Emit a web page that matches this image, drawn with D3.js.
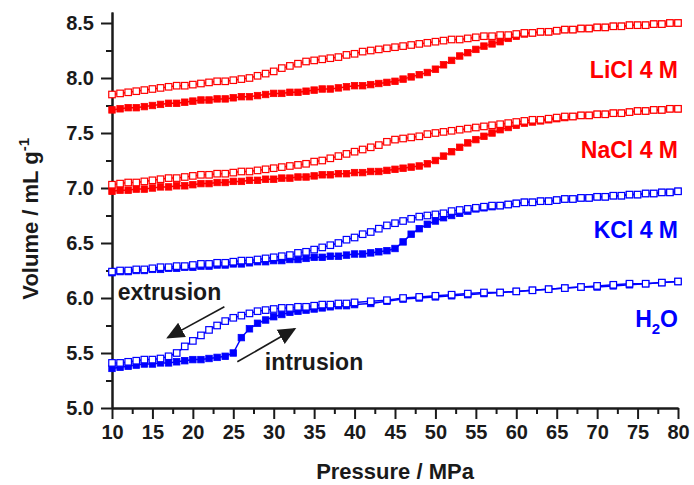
<!DOCTYPE html>
<html>
<head>
<meta charset="utf-8">
<script src="https://cdn.jsdelivr.net/npm/d3@7"></script>
<style>
  body { margin: 0; background: #fff; }
  text { font-family: "Liberation Sans", Arial, sans-serif; font-weight: bold; }
</style>
</head>
<body>
<script>
// pressure grid (MPa) for the salt solutions
var pressure = [10,11,12,13,14,15,16,17,18,19,20,21,22,23,24,25,26,27,28,29,30,
  31,32,33,34,35,36,37,38,39,40,41,42,43,44,45,46,47,48,49,50,
  51,52,53,54,55,56,57,58,59,60,61,62,63,64,65,66,67,68,69,70,
  71,72,73,74,75,76,77,78,79,80]

// volume (mL/g), intrusion = filled, extrusion = open
var liclIn = [7.71,7.72,7.73,7.73,7.74,7.75,7.76,7.77,7.77,7.78,7.79,
  7.80,7.80,7.81,7.81,7.82,7.83,7.83,7.84,7.85,7.86,
  7.86,7.87,7.87,7.88,7.89,7.90,7.90,7.91,7.92,7.93,
  7.93,7.94,7.95,7.96,7.97,7.99,8.01,8.03,8.05,8.08,
  8.12,8.16,8.20,8.23,8.26,8.29,8.31,8.33,8.36,8.38,
  8.40,8.41,8.42,8.42,8.43,8.44,8.44,8.45,8.45,8.46,
  8.46,8.47,8.47,8.48,8.48,8.48,8.49,8.49,8.50,8.50]
var liclEx = [7.85,7.86,7.87,7.88,7.89,7.90,7.91,7.92,7.93,7.93,7.94,
  7.95,7.96,7.97,7.97,7.98,7.99,8.00,8.02,8.04,8.06,
  8.09,8.11,8.13,8.15,8.16,8.17,8.18,8.19,8.21,8.22,
  8.24,8.25,8.26,8.27,8.28,8.29,8.30,8.31,8.32,8.33,
  8.34,8.35,8.35,8.36,8.37,8.38,8.38,8.39,8.39,8.40,
  8.41,8.41,8.42,8.42,8.43,8.44,8.44,8.45,8.45,8.46,
  8.46,8.47,8.47,8.48,8.48,8.48,8.49,8.49,8.50,8.50]
var naclIn = [6.97,6.98,6.98,6.99,6.99,7.00,7.01,7.01,7.02,7.02,7.03,
  7.04,7.04,7.05,7.05,7.06,7.06,7.07,7.07,7.08,7.08,
  7.09,7.09,7.10,7.10,7.11,7.12,7.12,7.13,7.13,7.14,
  7.14,7.15,7.15,7.16,7.17,7.18,7.19,7.20,7.22,7.25,
  7.29,7.33,7.37,7.41,7.44,7.47,7.50,7.53,7.55,7.57,
  7.59,7.60,7.61,7.62,7.63,7.64,7.65,7.66,7.66,7.67,
  7.67,7.68,7.68,7.69,7.70,7.70,7.71,7.71,7.72,7.72]
var naclEx = [7.03,7.04,7.05,7.05,7.06,7.07,7.08,7.09,7.09,7.10,7.11,
  7.12,7.12,7.13,7.13,7.14,7.15,7.15,7.16,7.17,7.18,
  7.19,7.20,7.21,7.22,7.24,7.25,7.27,7.29,7.31,7.33,
  7.35,7.37,7.39,7.42,7.44,7.45,7.46,7.47,7.49,7.50,
  7.51,7.52,7.53,7.54,7.55,7.56,7.57,7.58,7.59,7.60,
  7.61,7.62,7.62,7.63,7.64,7.65,7.65,7.66,7.66,7.67,
  7.67,7.68,7.68,7.69,7.70,7.70,7.71,7.71,7.72,7.72]
var kclIn = [6.23,6.24,6.24,6.25,6.25,6.26,6.26,6.27,6.27,6.28,6.28,
  6.29,6.29,6.30,6.30,6.31,6.31,6.32,6.33,6.33,6.34,
  6.34,6.35,6.35,6.36,6.37,6.37,6.38,6.38,6.39,6.40,
  6.40,6.41,6.42,6.43,6.45,6.51,6.58,6.63,6.67,6.70,
  6.73,6.75,6.77,6.79,6.81,6.82,6.83,6.84,6.85,6.86,
  6.87,6.87,6.88,6.88,6.89,6.90,6.90,6.91,6.91,6.92,
  6.92,6.93,6.93,6.94,6.94,6.95,6.95,6.96,6.96,6.97]
var kclEx = [6.24,6.25,6.25,6.26,6.26,6.27,6.28,6.28,6.29,6.29,6.30,
  6.31,6.31,6.32,6.32,6.33,6.34,6.34,6.35,6.36,6.37,
  6.38,6.39,6.41,6.42,6.44,6.46,6.48,6.50,6.53,6.55,
  6.58,6.60,6.63,6.66,6.68,6.70,6.72,6.74,6.75,6.76,
  6.77,6.79,6.80,6.81,6.82,6.83,6.84,6.84,6.85,6.86,
  6.87,6.87,6.88,6.88,6.89,6.90,6.90,6.91,6.91,6.92,
  6.92,6.93,6.93,6.94,6.94,6.95,6.95,6.96,6.96,6.97]

// water was measured on a coarser grid above 40 MPa
var waterP = [10,11,12,13,14,15,16,17,18,19,20,21,22,23,24,25,26,27,28,29,30,
  31,32,33,34,35,36,37,38,39,40,42,44,46,48,50,52,54,56,58,60,
  62,64,66,68,70,72,74,76,78,80]
var waterIn = [5.36,5.37,5.38,5.39,5.40,5.40,5.41,5.41,5.42,5.43,5.44,
  5.44,5.45,5.46,5.47,5.50,5.64,5.72,5.77,5.80,5.83,
  5.85,5.87,5.88,5.89,5.90,5.91,5.92,5.93,5.93,5.94,
  5.95,5.97,5.99,6.00,6.01,6.02,6.03,6.04,6.05,6.06,
  6.07,6.08,6.09,6.10,6.10,6.11,6.12,6.13,6.14,6.15]
var waterEx = [5.41,5.41,5.42,5.43,5.44,5.44,5.45,5.47,5.50,5.56,5.61,
  5.66,5.71,5.75,5.79,5.82,5.84,5.86,5.88,5.89,5.90,
  5.91,5.91,5.92,5.92,5.93,5.94,5.94,5.95,5.95,5.96,
  5.97,5.98,6.00,6.01,6.02,6.03,6.04,6.05,6.05,6.06,
  6.07,6.08,6.09,6.10,6.11,6.12,6.13,6.13,6.14,6.15]

var red = '#ff0000', blue = '#0000ff'

var series = [
  {p: pressure, v: liclIn, color: red, open: false},
  {p: pressure, v: naclIn, color: red, open: false},
  {p: pressure, v: kclIn, color: blue, open: false},
  {p: waterP, v: waterIn, color: blue, open: false},
  {p: pressure, v: liclEx, color: red, open: true},
  {p: pressure, v: naclEx, color: red, open: true},
  {p: pressure, v: kclEx, color: blue, open: true},
  {p: waterP, v: waterEx, color: blue, open: true}
]

var labels = [
  {text: 'LiCl 4 M', p: 80, v: 8.0, color: red},
  {text: 'NaCl 4 M', p: 80, v: 7.27, color: red},
  {text: 'KCl 4 M', p: 80, v: 6.55, color: blue}
]

var width = 694, height = 485

var svg = d3.select('body').append('svg').attr('width', width).attr('height', height)

var x = d3.scaleLinear().domain([10, 80]).range([112, 678])
var y = d3.scaleLinear().domain([5, 8.6]).range([408, 12])

var ink = '#1a1a1a'

// axes, major + minor ticks
var xAxis = d3.axisBottom(x).tickValues(d3.range(10, 81, 5)).tickSize(11).tickSizeOuter(0).tickPadding(6)
var xMinor = d3.axisBottom(x).tickValues(d3.range(12.5, 80, 5)).tickSize(6).tickSizeOuter(0).tickFormat('')
var yAxis = d3.axisLeft(y).tickValues(d3.range(5, 8.51, 0.5)).tickSize(11).tickSizeOuter(0).tickPadding(7).tickFormat(d3.format('.1f'))
var yMinor = d3.axisLeft(y).tickValues(d3.range(5.25, 8.6, 0.5)).tickSize(6).tickSizeOuter(0).tickFormat('')

function styleAxis(g) {
  g.selectAll('path, line').attr('stroke', ink).attr('stroke-width', 2)
  g.selectAll('text').attr('fill', ink).style('font-size', '20px')
}

svg.append('g').attr('transform', 'translate(0,408)').call(xMinor).call(styleAxis)
svg.append('g').attr('transform', 'translate(0,408)').call(xAxis).call(styleAxis)
svg.append('g').attr('transform', 'translate(112,0)').call(yMinor).call(styleAxis)
svg.append('g').attr('transform', 'translate(112,0)').call(yAxis).call(styleAxis)

svg.append('text').attr('x', (x(10) + x(80)) / 2).attr('y', 479)
  .attr('text-anchor', 'middle').attr('fill', ink).style('font-size', '22px')
  .text('Pressure / MPa')

var yt = svg.append('text').attr('transform', 'translate(38,' + y(6.72) + ') rotate(-90)')
  .attr('text-anchor', 'middle').attr('fill', ink).style('font-size', '22px')
yt.append('tspan').text('Volume / mL g')
yt.append('tspan').attr('dy', -9).style('font-size', '15px').text('-1')

// data
var line = d3.line().x(d => x(d[0])).y(d => y(d[1]))
var ms = 6.5

series.forEach(function(s) {
  var pts = s.p.map((p, i) => [p, s.v[i]])
  svg.append('path').attr('d', line(pts)).attr('fill', 'none')
    .attr('stroke', s.color).attr('stroke-width', 1.5)
  svg.append('g').selectAll('rect').data(pts).join('rect')
    .attr('x', d => x(d[0]) - ms / 2).attr('y', d => y(d[1]) - ms / 2)
    .attr('width', ms).attr('height', ms)
    .attr('fill', s.open ? '#fff' : s.color)
    .attr('stroke', s.color).attr('stroke-width', s.open ? 1.2 : 0.8)
})

// labels
svg.selectAll('.lab').data(labels).join('text').attr('class', 'lab')
  .attr('x', d => x(d.p)).attr('y', d => y(d.v))
  .attr('text-anchor', 'end').attr('fill', d => d.color).style('font-size', '23px')
  .text(d => d.text)

var h2o = svg.append('text').attr('x', x(80)).attr('y', y(5.74))
  .attr('text-anchor', 'end').attr('fill', blue).style('font-size', '23px')
h2o.append('tspan').text('H')
h2o.append('tspan').attr('dy', 7).style('font-size', '15px').text('2')
h2o.append('tspan').attr('dy', -7).text('O')

// annotations
svg.append('defs').append('marker').attr('id', 'head')
  .attr('viewBox', '0 0 10 10').attr('refX', 9).attr('refY', 5)
  .attr('markerWidth', 18).attr('markerHeight', 18).attr('markerUnits', 'userSpaceOnUse')
  .attr('orient', 'auto')
  .append('path').attr('d', 'M0,0.5L10,5L0,9.5Z').attr('fill', ink)

var arrows = [
  {from: [23.9, 5.92], to: [16.9, 5.64]},
  {from: [25.5, 5.42], to: [32.6, 5.72]}
]
svg.selectAll('.arr').data(arrows).join('line').attr('class', 'arr')
  .attr('x1', d => x(d.from[0])).attr('y1', d => y(d.from[1]))
  .attr('x2', d => x(d.to[0])).attr('y2', d => y(d.to[1]))
  .attr('stroke', ink).attr('stroke-width', 1.6).attr('marker-end', 'url(#head)')

svg.append('text').attr('x', x(10.7)).attr('y', y(5.98)).attr('fill', ink)
  .style('font-size', '23px').text('extrusion')
svg.append('text').attr('x', x(28.9)).attr('y', y(5.35)).attr('fill', ink)
  .style('font-size', '23px').text('intrusion')
</script>
</body>
</html>
